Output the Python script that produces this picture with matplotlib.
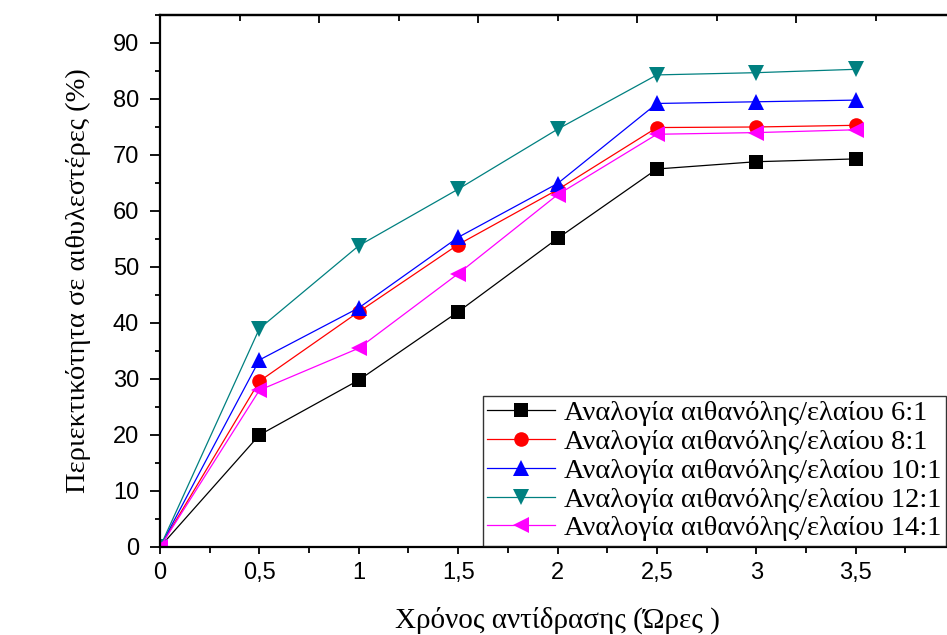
import numpy as np
import matplotlib.pyplot as plt
from matplotlib.ticker import MultipleLocator, NullFormatter

# Χρόνος αντίδρασης (ώρες)
xronos = [0, 0.5, 1, 1.5, 2, 2.5, 3, 3.5]

# Περιεκτικότητα σε αιθυλεστέρες (%) για κάθε αναλογία
analogia_6 = [0, 20.0, 29.8, 42.0, 55.1, 67.5, 68.8, 69.3]
analogia_8 = [0, 29.6, 42.0, 54.0, 63.8, 74.9, 75.0, 75.3]
analogia_10 = [0, 33.4, 42.7, 55.3, 64.9, 79.2, 79.5, 79.8]
analogia_12 = [0, 39.0, 53.8, 63.9, 74.6, 84.3, 84.7, 85.3]
analogia_14 = [0, 28.0, 35.5, 48.8, 62.9, 73.7, 74.0, 74.5]

etiketes = ['Αναλογία αιθανόλης/ελαίου 6:1',
            'Αναλογία αιθανόλης/ελαίου 8:1',
            'Αναλογία αιθανόλης/ελαίου 10:1',
            'Αναλογία αιθανόλης/ελαίου 12:1',
            'Αναλογία αιθανόλης/ελαίου 14:1']

seires = [analogia_6, analogia_8, analogia_10, analogia_12, analogia_14]
xromata = ['black', 'red', 'blue', '#008080', '#ff00ff']
markers = ['s', 'o', '^', 'v', '<']
megethi = [9.5, 10.5, 11.5, 11.5, 11.5]

fig = plt.figure(figsize=(9.47, 6.35), dpi=100)
ax = fig.add_axes([0.169, 0.1386, 0.8395, 0.8378])

for y, c, m, ms, lab in zip(seires, xromata, markers, megethi, etiketes):
    ax.plot(xronos, y, color=c, marker=m, markersize=ms, linewidth=0.9,
            markeredgewidth=0, label=lab)

ax.set_xlim(0, 4)
ax.set_ylim(0, 95)

ax.xaxis.set_minor_locator(MultipleLocator(0.25))
ax.yaxis.set_major_locator(MultipleLocator(10))
ax.yaxis.set_minor_locator(MultipleLocator(5))

# κόμμα ως δεκαδικό διαχωριστικό, χωρίς ετικέτα στο 4
ax.set_xticks(np.arange(0, 3.51, 0.5))
ax.set_xticklabels(['0', '0,5', '1', '1,5', '2', '2,5', '3', '3,5'])

for lbl in ax.get_xticklabels() + ax.get_yticklabels():
    lbl.set_fontfamily('Liberation Sans')
    lbl.set_fontsize(17)

ax.tick_params(axis='y', which='major', direction='out', length=7, width=1.3, pad=8)
ax.tick_params(axis='y', which='minor', direction='out', length=3.6, width=1.3)
ax.tick_params(axis='x', which='major', direction='out', length=5, width=1.3, pad=6)
ax.tick_params(axis='x', which='minor', direction='out', length=4, width=1.3)

# πάνω και δεξιά άξονας με εσωτερικές υποδιαιρέσεις
top = ax.secondary_xaxis('top')
top.xaxis.set_major_locator(MultipleLocator(0.8))
top.xaxis.set_minor_locator(MultipleLocator(0.4))
top.xaxis.set_major_formatter(NullFormatter())
top.tick_params(which='major', direction='in', length=6, width=1.3)
top.tick_params(which='minor', direction='in', length=4, width=1.3)
top.spines['top'].set_linewidth(1.6)

right = ax.secondary_yaxis('right')
right.yaxis.set_major_locator(MultipleLocator(19))
right.yaxis.set_major_formatter(NullFormatter())
right.tick_params(which='major', direction='in', length=5, width=1.3)

for sp in ax.spines.values():
    sp.set_linewidth(1.6)

ax.set_xlabel('Χρόνος αντίδρασης (Ώρες )', fontfamily='Liberation Serif',
              fontsize=21, labelpad=16)
ax.set_ylabel('Περιεκτικότητα σε αιθυλεστέρες (%)', fontfamily='Liberation Serif',
              fontsize=20.5, labelpad=16)

leg = ax.legend(loc='lower right', bbox_to_anchor=(0.99, 0.0),
                prop={'family': 'Liberation Serif', 'size': 20.5},
                frameon=True, fancybox=False, edgecolor='black', handlelength=2.4,
                borderpad=0.15, labelspacing=0.1, handletextpad=0.3, borderaxespad=0.05)
leg.get_frame().set_linewidth(1.0)

fig.savefig('out.png', dpi=100)
